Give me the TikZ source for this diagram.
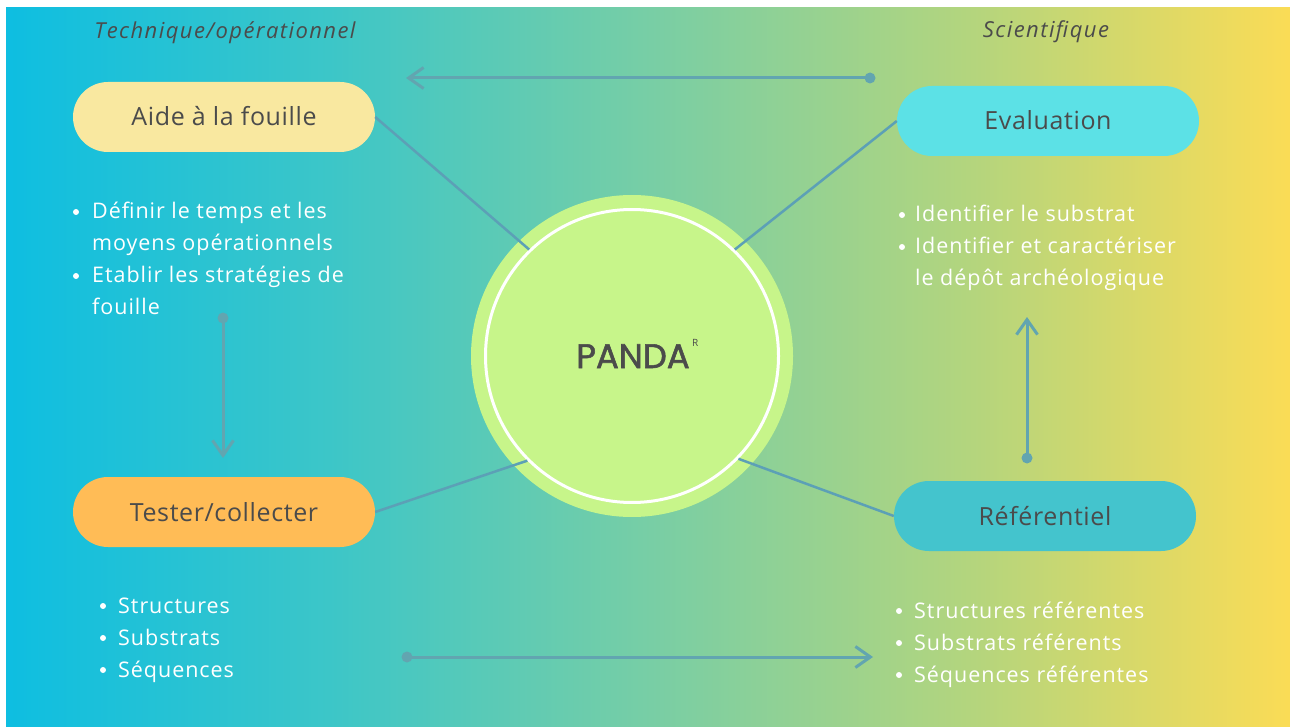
\documentclass[tikz,border=0pt]{standalone}
\usepackage{fontspec}
\setmainfont{Open Sans}
\newfontfamily\pandafont[FakeBold=1.6]{Poppins}
\newfontfamily\itemfont[LetterSpace=4.5]{Open Sans}
\newfontfamily\boxfont[LetterSpace=2.5]{Open Sans}
\newfontfamily\headfont[LetterSpace=6.5]{Open Sans}
\usetikzlibrary{arrows.meta,shapes.misc}
\definecolor{g1}{RGB}{14,190,225}
\definecolor{g2}{RGB}{60,198,200}
\definecolor{g3}{RGB}{120,206,165}
\definecolor{g4}{RGB}{180,213,125}
\definecolor{g5}{RGB}{252,220,85}
\definecolor{txt}{RGB}{75,75,75}
\definecolor{lnk}{RGB}{92,160,182}
\definecolor{arrc}{RGB}{98,165,176}
\definecolor{aidec}{RGB}{249,232,160}
\definecolor{evalc}{RGB}{92,225,230}
\definecolor{testc}{RGB}{255,188,86}
\definecolor{refc}{RGB}{68,196,205}
\definecolor{circc}{RGB}{199,245,138}
\pgfdeclarehorizontalshading{bgshade}{100bp}{color(0bp)=(g1); color(25bp)=(g1); color(37.5bp)=(g2); color(50bp)=(g3); color(62.5bp)=(g4); color(75bp)=(g5); color(100bp)=(g5)}
\tikzset{
  box/.style={rounded rectangle, minimum width=302pt, minimum height=70pt, inner sep=0pt,
    text height=18pt, text depth=0pt, font=\boxfont\fontsize{25}{28}\selectfont, text=txt},
  head/.style={anchor=base, inner sep=0pt, text=txt, font=\headfont\fontsize{22}{26}\selectfont\itshape},
  item/.style={anchor=base west, inner sep=0pt, text=white, font=\itemfont\fontsize{21.5}{25}\selectfont},
  bul/.style={circle, fill=white, inner sep=0pt, minimum size=6pt},
  link/.style={draw=lnk, line width=2.5pt},
  arr/.style={draw=arrc, line width=3pt, -{Straight Barb[length=15pt,width=21pt]}},
  knob/.style={circle, fill=arrc, inner sep=0pt, minimum size=11pt}
}
\begin{document}
\begin{tikzpicture}[x=1pt,y=-1pt]
\useasboundingbox (0,0) rectangle (1290,727);
\shade[shading=bgshade] (6,8) rectangle (1296,733);

% headers
\node[head] (h1) at (225,39) {Technique/opérationnel};
\node[head] (h2) at (1046,38) {Scientifique};

% central circle
\node[circle, fill=circc, minimum size=322pt, inner sep=0pt] (outer) at (632,356) {};
\node[circle, draw=white, line width=3pt, minimum size=293pt, inner sep=0pt] (inner) at (632,356) {};
\node[anchor=base, inner sep=0pt, text=txt, font=\pandafont\fontsize{34}{36}\selectfont] (panda) at (633,368) {PANDA};
\node[anchor=base west, inner sep=0pt, text=txt, font=\fontsize{10}{11}\selectfont] (reg) at (692,346) {R};

% boxes
\node[box, fill=aidec] (aide) at (224,117) {Aide à la fouille};
\node[box, fill=evalc] (eval) at (1048,121) {Evaluation};
\node[box, fill=testc] (test) at (224,512) {Tester/collecter};
\node[box, fill=refc] (ref) at (1045,516) {Référentiel};

% links
\draw[link] (aide.east) -- (inner.134);
\draw[link] (eval.west) -- (inner.46);
\draw[link] (test.east) -- (inner.225);
\draw[link] (ref.west) -- (inner.316);

% arrows
\node[knob] (k1) at (870,78) {};
\coordinate (t1) at (406,78);
\draw[arr] (k1.center) -- (t1);
\node[knob] (k2) at (223,318) {};
\coordinate (t2) at (223,458);
\draw[arr] (k2.center) -- (t2);
\node[knob] (k3) at (1027,458) {};
\coordinate (t3) at (1027,317);
\draw[arr] (k3.center) -- (t3);
\node[knob] (k4) at (407,657) {};
\coordinate (t4) at (873,657);
\draw[arr] (k4.center) -- (t4);

% lists
\node[bul] (b1) at (76,212) {};
\node[item] (l1) at (92,219) {Définir le temps et les};
\node[item] (l2) at (92,251) {moyens opérationnels};
\node[bul] (b2) at (76,276) {};
\node[item] (l3) at (92,283) {Etablir les stratégies de};
\node[item] (l4) at (92,315) {fouille};

\node[bul] (b3) at (902,215) {};
\node[item] (r1) at (915,222) {Identifier le substrat};
\node[bul] (b4) at (902,247) {};
\node[item] (r2) at (915,254) {Identifier et caractériser};
\node[item] (r3) at (915,286) {le dépôt archéologique};

\node[bul] (b5) at (103,606) {};
\node[item] (s1) at (118,613) {Structures};
\node[bul] (b6) at (103,638) {};
\node[item] (s2) at (118,645) {Substrats};
\node[bul] (b7) at (103,670) {};
\node[item] (s3) at (118,677) {Séquences};

\node[bul] (b8) at (899,611) {};
\node[item] (q1) at (914,618) {Structures référentes};
\node[bul] (b9) at (899,643) {};
\node[item] (q2) at (914,650) {Substrats référents};
\node[bul] (b10) at (899,675) {};
\node[item] (q3) at (914,682) {Séquences référentes};
\end{tikzpicture}
\end{document}
